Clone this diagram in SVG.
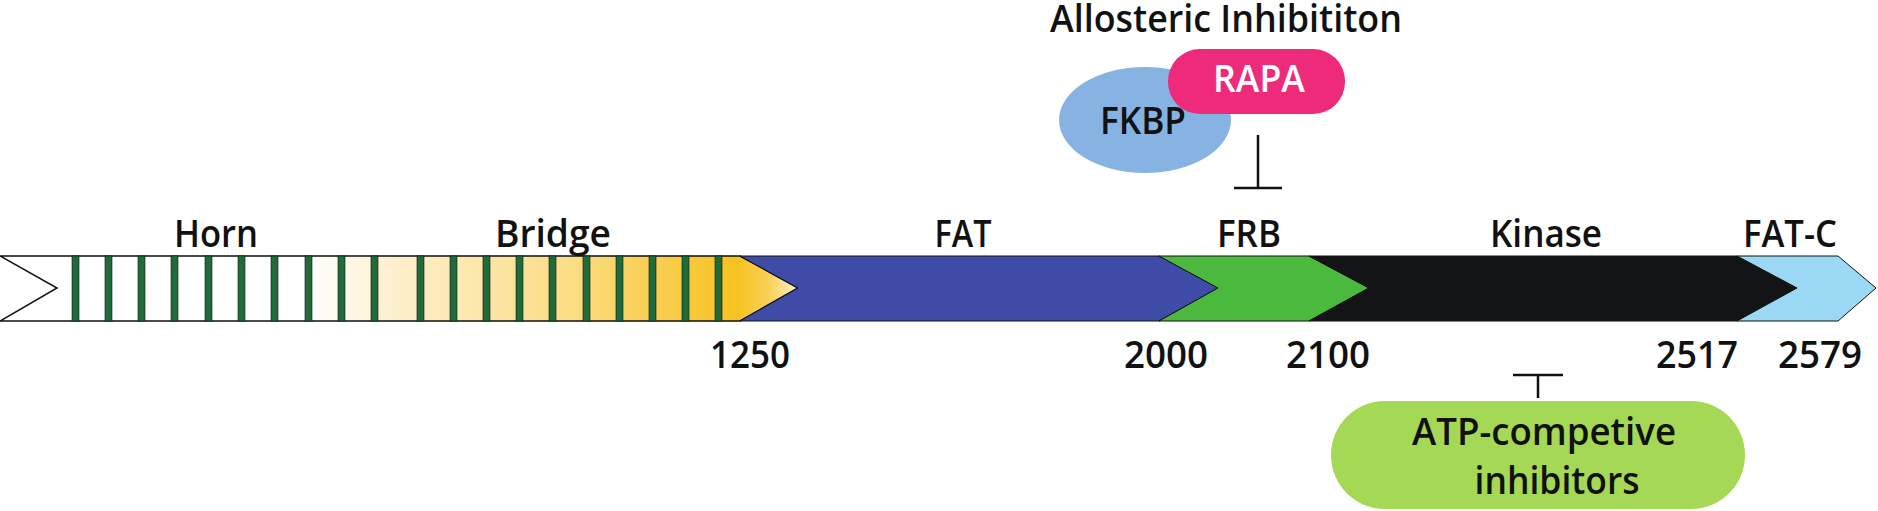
<svg xmlns="http://www.w3.org/2000/svg" width="1878" height="511" viewBox="0 0 1878 511">
<defs>
<linearGradient id="yg" gradientUnits="userSpaceOnUse" x1="0" y1="0" x2="800" y2="0">
<stop offset="0" stop-color="#ffffff"/><stop offset="0.38" stop-color="#ffffff"/><stop offset="0.5" stop-color="#fdeeca"/><stop offset="0.7" stop-color="#fbde8a"/><stop offset="0.92" stop-color="#f7c220"/><stop offset="0.96" stop-color="#f9cf55"/><stop offset="1" stop-color="#fff3d0"/>
</linearGradient>
<style>
text{font-family:"Open Sans","Liberation Sans",sans-serif;fill:#111;font-weight:600;}
.lb{font-size:38px;text-anchor:middle;}
.st{fill:#1f6b3a;stroke:#111;stroke-width:0.6;}
.ln{stroke:#111;stroke-width:2.5;fill:none;}
</style>
</defs>
<g id="bar">
<polygon points="0,256 740,256 798,288 740,321 0,321 57,288" fill="url(#yg)" stroke="#111" stroke-width="1.5"/>
<g id="stripes">
<rect class="st" x="72" y="256" width="7" height="65"/><rect class="st" x="105" y="256" width="7" height="65"/><rect class="st" x="138" y="256" width="7" height="65"/><rect class="st" x="171" y="256" width="7" height="65"/><rect class="st" x="205" y="256" width="7" height="65"/><rect class="st" x="238" y="256" width="7" height="65"/><rect class="st" x="271" y="256" width="7" height="65"/><rect class="st" x="305" y="256" width="7" height="65"/><rect class="st" x="338" y="256" width="7" height="65"/><rect class="st" x="371" y="256" width="7" height="65"/><rect class="st" x="417" y="256" width="7" height="65"/><rect class="st" x="450" y="256" width="7" height="65"/><rect class="st" x="483" y="256" width="7" height="65"/><rect class="st" x="516" y="256" width="7" height="65"/><rect class="st" x="549" y="256" width="7" height="65"/><rect class="st" x="583" y="256" width="7" height="65"/><rect class="st" x="616" y="256" width="7" height="65"/><rect class="st" x="649" y="256" width="7" height="65"/><rect class="st" x="682" y="256" width="7" height="65"/><rect class="st" x="715" y="256" width="7" height="65"/>
</g>
<polygon id="fat" points="740,256 1159,256 1218,288 1159,321 740,321 798,288" fill="#3e4ca8" stroke="#111" stroke-width="1"/>
<polygon id="frb" points="1159,256 1309,256 1369,288 1309,321 1159,321 1218,288" fill="#4ab93e" stroke="#111" stroke-width="1"/>
<polygon id="kinase" points="1309,256 1737,256 1797,288 1737,321 1309,321 1369,288" fill="#131416" stroke="#111" stroke-width="1"/>
<polygon id="fatc" points="1737,256 1838,256 1876,288 1838,321 1737,321 1797,288" fill="#9ad8f3" stroke="#111" stroke-width="1"/>
</g>
<g id="labels">
<text class="lb" x="216" y="247" textLength="84" lengthAdjust="spacingAndGlyphs">Horn</text>
<text class="lb" x="553" y="247" textLength="116" lengthAdjust="spacingAndGlyphs">Bridge</text>
<text class="lb" x="963" y="247" textLength="57" lengthAdjust="spacingAndGlyphs">FAT</text>
<text class="lb" x="1249" y="247" textLength="64" lengthAdjust="spacingAndGlyphs">FRB</text>
<text class="lb" x="1546" y="247" textLength="112" lengthAdjust="spacingAndGlyphs">Kinase</text>
<text class="lb" x="1790" y="247" textLength="94" lengthAdjust="spacingAndGlyphs">FAT-C</text>
<text class="lb" x="750" y="368" textLength="80" lengthAdjust="spacingAndGlyphs">1250</text>
<text class="lb" x="1166" y="368" textLength="84" lengthAdjust="spacingAndGlyphs">2000</text>
<text class="lb" x="1328" y="368" textLength="84" lengthAdjust="spacingAndGlyphs">2100</text>
<text class="lb" x="1697" y="368" textLength="82" lengthAdjust="spacingAndGlyphs">2517</text>
<text class="lb" x="1820" y="368" textLength="84" lengthAdjust="spacingAndGlyphs">2579</text>
</g>
<g id="allosteric">
<text class="lb" x="1226" y="32" textLength="352" lengthAdjust="spacingAndGlyphs">Allosteric Inhibititon</text>
</g>
<g id="fkbp">
<ellipse cx="1145" cy="120" rx="86" ry="53" fill="#86b3e2"/>
<text class="lb" x="1143" y="134" textLength="86" lengthAdjust="spacingAndGlyphs">FKBP</text>
</g>
<g id="rapa">
<rect x="1168" y="49" width="177" height="65" rx="32" fill="#ee2a7b"/>
<text class="lb" x="1259" y="92" style="fill:#fff" textLength="92" lengthAdjust="spacingAndGlyphs">RAPA</text>
</g>
<g id="atp">
<rect x="1331" y="401" width="414" height="108" rx="54" fill="#a5d854"/>
<text class="lb" x="1544" y="445" textLength="264" lengthAdjust="spacingAndGlyphs">ATP-competive</text>
<text class="lb" x="1557" y="494" textLength="165" lengthAdjust="spacingAndGlyphs">inhibitors</text>
</g>
<g id="connectors">
<path class="ln" d="M1258,135 V188 M1234,188 H1282"/>
<path class="ln" d="M1538,398 V375 M1513,375 H1563"/>
</g>
</svg>
